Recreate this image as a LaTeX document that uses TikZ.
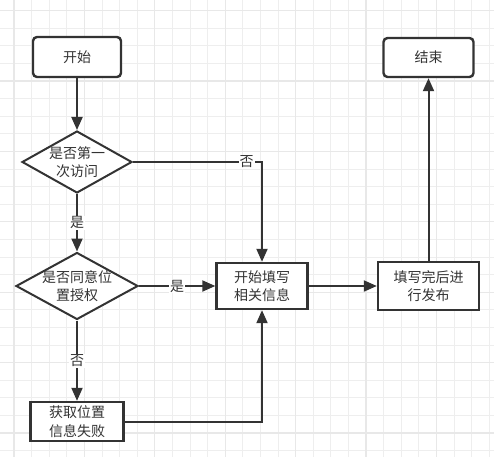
\documentclass[tikz,border=0pt]{standalone}
\usepackage{fontspec}
\newfontfamily\cjk{Noto Sans CJK SC}
\usetikzlibrary{arrows.meta,shapes.geometric}
\definecolor{ink}{RGB}{51,51,51}
\definecolor{gridL}{RGB}{238,238,238}
\definecolor{gridD}{RGB}{232,232,232}
\tikzset{
  txt/.style={font=\cjk\fontsize{14}{18.5}\selectfont, text=ink, align=center},
  flow/.style={-{Triangle[length=13pt, width=11pt]}, line width=2pt, draw=ink},
  term/.style={txt, draw=ink, line width=2.4pt, rounded corners=4pt, fill=white,
    minimum width=88pt, minimum height=40pt},
  proc/.style={txt, draw=ink, line width=2.4pt, fill=white, minimum height=46pt},
  test/.style={diamond, draw=ink, line width=2pt, fill=white, inner sep=0pt},
  lbl/.style={txt, fill=white, inner sep=1pt},
}

\begin{document}
\begin{tikzpicture}[x=1pt, y=-1pt]
  \useasboundingbox (0,0) rectangle (494,457);
  \fill[white] (0,0) rectangle (494,457);
  % background grid
  \foreach \i in {0,...,27} {
    \draw[gridL, line width=1pt] ({14+17.6*\i},0) -- ++(0,457);
  }
  \foreach \i in {0,...,25} {
    \draw[gridL, line width=1pt] (0,{10.6+17.6*\i}) -- ++(494,0);
  }
  \foreach \i in {0,...,6} {
    \draw[gridD, line width=1.2pt] ({14+70.4*\i},0) -- ++(0,457);
    \draw[gridD, line width=1.2pt] (0,{10.6+70.4*\i}) -- ++(494,0);
  }

  \node[term] (start) at (77,57) {开始};
  \node[test, minimum width=110pt, minimum height=62pt,
    label={[txt]center:{是否第一\\次访问}}] (first) at (77,162) {};
  \node[test, minimum width=122pt, minimum height=67pt,
    label={[txt]center:{是否同意位\\置授权}}] (auth) at (77,286) {};
  \node[proc, minimum width=93pt, minimum height=39pt] (fail) at (77,421.5) {获取位置\\信息失败};
  \node[proc, minimum width=91pt] (fill) at (262,286) {开始填写\\相关信息};
  \node[proc, minimum width=101pt, minimum height=48pt] (pub) at (428.5,286) {填写完后进\\行发布};
  \node[term, minimum width=90pt, minimum height=39pt] (end) at (428.5,57.5) {结束};

  \draw[flow] (start) -- (first);
  \draw[flow] (first) -- node[lbl] {是} (auth);
  \draw[flow] (first.east) -| node[lbl, pos=0.44] {否} (fill.north);
  \draw[flow] (auth) -- node[lbl] {是} (fill);
  \draw[flow] (auth) -- node[lbl] {否} (fail);
  \draw[flow] (fail.east) -| (fill.south);
  \draw[flow] (fill) -- (pub);
  \draw[flow] (pub) -- (end);
\end{tikzpicture}
\end{document}
